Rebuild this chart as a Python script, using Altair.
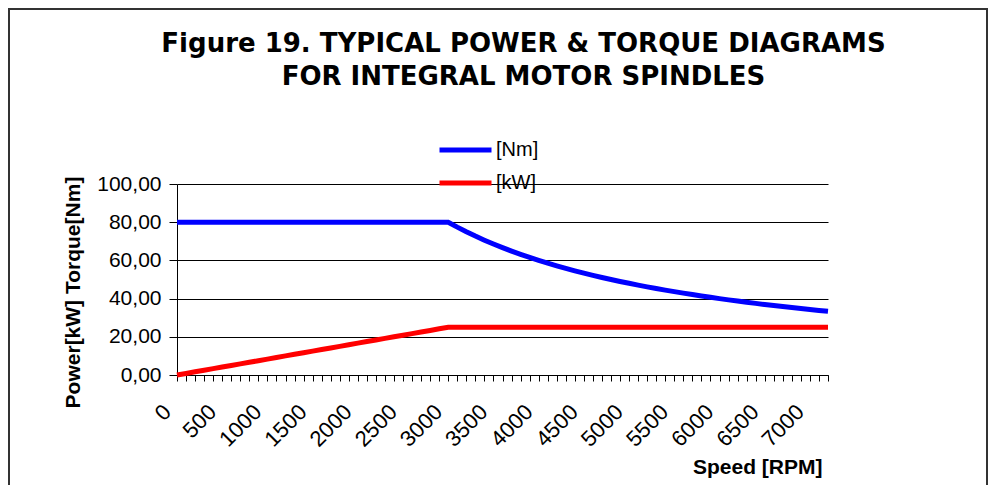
import altair as alt
import pandas as pd

# ---- data ----
speed_rpm = [0, 100, 200, 300, 400, 500, 600, 700, 800, 900,
             1000, 1100, 1200, 1300, 1400, 1500, 1600, 1700, 1800, 1900,
             2000, 2100, 2200, 2300, 2400, 2500, 2600, 2700, 2800, 2900,
             3000, 3100, 3200, 3300, 3400, 3500, 3600, 3700, 3800, 3900,
             4000, 4100, 4200, 4300, 4400, 4500, 4600, 4700, 4800, 4900,
             5000, 5100, 5200, 5300, 5400, 5500, 5600, 5700, 5800, 5900,
             6000, 6100, 6200, 6300, 6400, 6500, 6600, 6700, 6800, 6900,
             7000, 7100, 7200]

torque_nm = [80.0, 80.0, 80.0, 80.0, 80.0, 80.0, 80.0, 80.0, 80.0, 80.0,
             80.0, 80.0, 80.0, 80.0, 80.0, 80.0, 80.0, 80.0, 80.0, 80.0,
             80.0, 80.0, 80.0, 80.0, 80.0, 80.0, 80.0, 80.0, 80.0, 80.0,
             80.0, 77.42, 75.0, 72.73, 70.59, 68.57, 66.67, 64.86, 63.16, 61.54,
             60.0, 58.54, 57.14, 55.81, 54.55, 53.33, 52.17, 51.06, 50.0, 48.98,
             48.0, 47.06, 46.15, 45.28, 44.44, 43.64, 42.86, 42.11, 41.38, 40.68,
             40.0, 39.34, 38.71, 38.10, 37.5, 36.92, 36.36, 35.82, 35.29, 34.78,
             34.29, 33.80, 33.33]

power_kw = [0.0, 0.83, 1.67, 2.5, 3.33, 4.17, 5.0, 5.83, 6.67, 7.5,
            8.33, 9.17, 10.0, 10.83, 11.67, 12.5, 13.33, 14.17, 15.0, 15.83,
            16.67, 17.5, 18.33, 19.17, 20.0, 20.83, 21.67, 22.5, 23.33, 24.17,
            25.0, 25.0, 25.0, 25.0, 25.0, 25.0, 25.0, 25.0, 25.0, 25.0,
            25.0, 25.0, 25.0, 25.0, 25.0, 25.0, 25.0, 25.0, 25.0, 25.0,
            25.0, 25.0, 25.0, 25.0, 25.0, 25.0, 25.0, 25.0, 25.0, 25.0,
            25.0, 25.0, 25.0, 25.0, 25.0, 25.0, 25.0, 25.0, 25.0, 25.0,
            25.0, 25.0, 25.0]

series_names = ["[Nm]", "[kW]"]
series_colors = ["#0000FF", "#FF0000"]
y_ticks = [0, 20, 40, 60, 80, 100]

title_lines = ["Figure 19. TYPICAL POWER & TORQUE DIAGRAMS",
               "FOR INTEGRAL MOTOR SPINDLES"]

rows = []
for s, t in zip(speed_rpm, torque_nm):
    rows.append({"speed": s, "value": t, "series": series_names[0]})
for s, p in zip(speed_rpm, power_kw):
    rows.append({"speed": s, "value": p, "series": series_names[1]})
df = pd.DataFrame(rows)

W, H = 651, 191
PAD = {"left": 169, "top": 176, "right": 160, "bottom": 110}

lines = alt.Chart(df).mark_line(strokeWidth=5).encode(
    x=alt.X(
        "speed:Q",
        scale=alt.Scale(domain=[speed_rpm[0], speed_rpm[-1]], nice=False, zero=True),
        axis=alt.Axis(
            values=speed_rpm,
            format="d",
            labelExpr="datum.value % 500 == 0 ? datum.label : ''",
            labelAngle=-45,
            labelAlign="right",
            labelBaseline="middle",
            labelOverlap=False,
            labelPadding=27,
            labelOffset=-10,
            labelFontSize=22,
            grid=False,
            tickSize=6,
            title="Speed [RPM]",
            titleX=645,
            titleY=92,
            titleAlign="right",
            titleBaseline="middle",
        ),
    ),
    y=alt.Y(
        "value:Q",
        scale=alt.Scale(domain=[0, 100], nice=False),
        axis=alt.Axis(
            values=y_ticks,
            labelExpr="replace(format(datum.value, '.2f'), '.', ',')",
            grid=True,
            gridColor="black",
            tickSize=8,
            labelPadding=8,
            title="Power[kW]  Torque[Nm]",
            titleX=-104,
            titleY=108,
            titleAlign="center",
            titleBaseline="middle",
        ),
    ),
    color=alt.Color(
        "series:N",
        scale=alt.Scale(domain=series_names, range=series_colors),
        legend=alt.Legend(
            orient="none",
            legendX=260,
            legendY=-44,
            title=None,
            symbolType="stroke",
            symbolSize=2704,
            symbolStrokeWidth=5,
            labelFont="Liberation Sans",
            labelFontSize=20,
            labelColor="black",
            clipHeight=20,
            rowPadding=13,
            padding=0,
            labelOffset=2,
        ),
    ),
)

frame = alt.Chart(alt.Data(values=[{}])).mark_rect(
    filled=False, stroke="#333333", strokeWidth=2
).encode(
    x=alt.value(-168), x2=alt.value(810), y=alt.value(-175), y2=alt.value(440)
)

chart = alt.layer(frame, lines).properties(
    width=W,
    height=H,
    padding=PAD,
    autosize=alt.AutoSizeParams(type="none"),
    title=alt.TitleParams(
        text=title_lines,
        font="DejaVu Sans",
        fontSize=26,
        fontWeight="bold",
        color="black",
        anchor="middle",
        dx=21,
        dy=82,
        offset=0,
        lineHeight=33,
    ),
).configure_view(stroke=None).configure_axis(
    domainColor="black",
    tickColor="black",
    labelColor="black",
    labelFont="Liberation Sans",
    labelFontSize=21,
    titleFont="Liberation Sans",
    titleFontSize=21,
    titleFontWeight="bold",
    titleColor="black",
    gridOpacity=1,
)

chart.save("out.html", embed_options={"renderer": "svg", "actions": False})
